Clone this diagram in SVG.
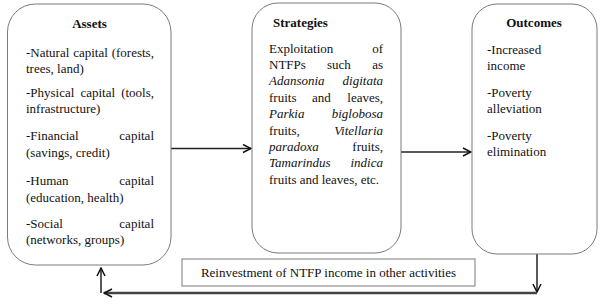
<svg xmlns="http://www.w3.org/2000/svg" width="615" height="305" viewBox="0 0 615 305">
<style>
.box{fill:#fff;stroke:#7a7a7a;stroke-width:1}
.t{font-family:"Liberation Serif","Times New Roman",serif;font-size:13px;fill:#111}
.b{font-weight:bold}
.i{font-style:italic}
.e{text-anchor:end}
.m{text-anchor:middle}
.ar{fill:none;stroke:#222;stroke-width:1.5}
</style>
<defs>
<marker id="ah" markerUnits="userSpaceOnUse" markerWidth="10" markerHeight="10" viewBox="0 0 10 10" refX="9" refY="5" orient="auto">
<path d="M1,1 L9,5 L1,9" fill="none" stroke="#111" stroke-width="1.5"/>
</marker>
</defs>
<rect width="615" height="305" fill="#fff"/>
<g id="connectors">
<path class="ar" d="M171,148.5 H251" stroke="#333" marker-end="url(#ah)"/>
<path class="ar" d="M401,152 H471" stroke="#333" marker-end="url(#ah)"/>
<path class="ar" d="M537,247 V292" marker-end="url(#ah)"/>
<path d="M537,293 H104" fill="none" stroke="#444" stroke-width="2.5" marker-end="url(#ah)"/>
<path class="ar" d="M101,293 V268" marker-end="url(#ah)"/>
</g>
<g id="assets">
<rect class="box" x="7.5" y="4" width="163.5" height="261" rx="28"/>
<text class="t b m" x="89.5" y="28">Assets</text>
<text class="t" x="26" y="57" word-spacing="0.6">-Natural capital (forests,</text>
<text class="t" x="26" y="73">trees, land)</text>
<text class="t" x="26" y="97" word-spacing="2.8">-Physical capital (tools,</text>
<text class="t" x="26" y="113">infrastructure)</text>
<text class="t" x="26" y="140">-Financial</text><text class="t e" x="154" y="140">capital</text>
<text class="t" x="26" y="157">(savings, credit)</text>
<text class="t" x="26" y="185">-Human</text><text class="t e" x="154" y="185">capital</text>
<text class="t" x="26" y="202">(education, health)</text>
<text class="t" x="26" y="228">-Social</text><text class="t e" x="154" y="228">capital</text>
<text class="t" x="26" y="244">(networks, groups)</text>
</g>
<g id="strategies">
<rect class="box" x="252" y="3" width="149" height="250" rx="26"/>
<text class="t b" x="273" y="27">Strategies</text>
<text class="t" x="269" y="53">Exploitation</text><text class="t e" x="383" y="53">of</text>
<text class="t" x="269" y="69">NTFPs</text><text class="t" x="327" y="69">such</text><text class="t e" x="383" y="69">as</text>
<text class="t i" x="269" y="85">Adansonia</text><text class="t i e" x="383" y="85">digitata</text>
<text class="t" x="269" y="102">fruits</text><text class="t" x="312" y="102">and</text><text class="t e" x="383" y="102">leaves,</text>
<text class="t i" x="269" y="118">Parkia</text><text class="t i e" x="383" y="118">biglobosa</text>
<text class="t" x="269" y="135">fruits,</text><text class="t i e" x="383" y="135">Vitellaria</text>
<text class="t i" x="269" y="151">paradoxa</text><text class="t e" x="383" y="151">fruits,</text>
<text class="t i" x="269" y="167">Tamarindus</text><text class="t i e" x="383" y="167">indica</text>
<text class="t" x="269" y="184">fruits and leaves, etc.</text>
</g>
<g id="outcomes">
<rect class="box" x="472" y="4" width="125" height="250" rx="25"/>
<text class="t b m" x="534" y="27">Outcomes</text>
<text class="t" x="487" y="54">-Increased</text>
<text class="t" x="487" y="70">income</text>
<text class="t" x="487" y="97">-Poverty</text>
<text class="t" x="487" y="113">alleviation</text>
<text class="t" x="487" y="140">-Poverty</text>
<text class="t" x="487" y="156">elimination</text>
</g>
<g id="reinvestment">
<rect x="182" y="259" width="293" height="27" fill="#fff" stroke="#7a7a7a" stroke-width="1"/>
<text class="t m" x="328.5" y="277">Reinvestment of NTFP income in other activities</text>
</g>
</svg>
